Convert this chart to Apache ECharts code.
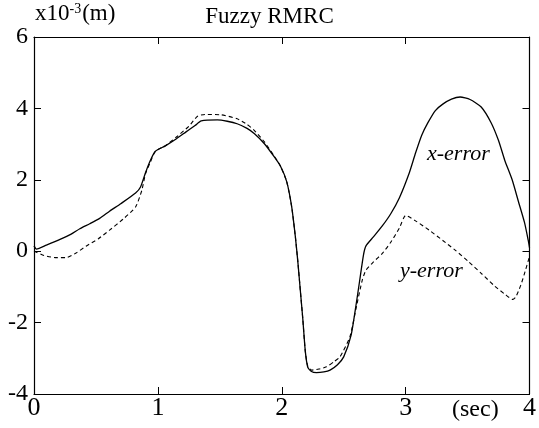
<!DOCTYPE html>
<html><head><meta charset="utf-8">
<script src="https://cdn.jsdelivr.net/npm/echarts@6/dist/echarts.min.js"></script>
<style>html,body{margin:0;padding:0;background:#fff}#c{width:539px;height:428px}</style>
</head><body><div id="c"></div>
<script>
var xTicks = ['0','1','2','3','4'];
var yTicks = ['-4','-2','0','2','4','6'];
var xErrT = [0,0.02,0.1,0.21,0.3,0.37,0.45,0.53,0.61,0.7,0.82,0.86,0.9,0.94,0.98,1.06,1.15,1.23,1.3,1.35,1.48,1.56,1.64,1.72,1.78,1.86,1.94,1.99,2.04,2.08,2.11,2.13,2.15,2.17,2.19,2.21,2.24,2.28,2.34,2.39,2.45,2.5,2.56,2.6,2.63,2.66,2.68,2.74,2.81,2.88,2.95,3.03,3.08,3.13,3.18,3.24,3.3,3.37,3.44,3.52,3.61,3.69,3.75,3.8,3.86,3.91,3.96,3.99,4.0];
var xErr = [0.15,0.06,0.17,0.33,0.48,0.63,0.77,0.92,1.12,1.33,1.63,1.8,2.2,2.55,2.8,2.95,3.15,3.35,3.52,3.65,3.68,3.64,3.57,3.44,3.29,3.01,2.64,2.38,1.95,1.25,0.4,-0.3,-1.1,-1.9,-2.8,-3.25,-3.37,-3.4,-3.38,-3.33,-3.18,-2.96,-2.35,-1.5,-0.8,-0.1,0.15,0.4,0.7,1.05,1.5,2.2,2.75,3.25,3.6,3.94,4.12,4.26,4.32,4.25,4.04,3.6,3.1,2.55,2.0,1.4,0.8,0.3,0.1];
var yErrT = [0,0.02,0.08,0.18,0.26,0.34,0.42,0.52,0.61,0.72,0.82,0.87,0.9,0.94,0.98,1.06,1.15,1.25,1.32,1.38,1.51,1.64,1.72,1.78,1.86,1.94,1.99,2.04,2.08,2.11,2.13,2.15,2.17,2.19,2.21,2.24,2.3,2.36,2.42,2.47,2.55,2.6,2.65,2.68,2.74,2.81,2.88,2.95,3.0,3.08,3.19,3.3,3.4,3.51,3.61,3.72,3.8,3.865,3.89,3.93,3.96,4.0];
var yErr = [0,-0.03,-0.12,-0.18,-0.18,-0.05,0.14,0.35,0.59,0.9,1.24,1.7,2.17,2.5,2.8,2.95,3.2,3.5,3.78,3.83,3.82,3.71,3.55,3.38,3.06,2.66,2.38,1.95,1.25,0.4,-0.3,-1.1,-1.9,-2.8,-3.22,-3.33,-3.3,-3.24,-3.1,-2.96,-2.4,-1.6,-0.81,-0.53,-0.3,-0.07,0.25,0.65,1.0,0.85,0.59,0.3,0.03,-0.3,-0.62,-0.98,-1.2,-1.35,-1.28,-0.95,-0.62,-0.15];

function pairs(t, v){ return t.map(function(x,i){return [x, v[i]];}); }
var serif = '"Liberation Serif","DejaVu Serif",serif';
var chart = echarts.init(document.getElementById('c'), null, {renderer:'canvas'});
var axLine = {show:true, onZero:false, lineStyle:{color:'#000', width:1.2}};
var ticks = {show:true, inside:true, length:7, lineStyle:{color:'#000', width:1}};
chart.setOption({
  animation:false,
  backgroundColor:'#fff',
  title:{text:'Fuzzy RMRC', left:'center', top:0, textStyle:{fontFamily:serif, fontWeight:'normal', fontSize:23, color:'#000'}},
  grid:{left:34, right:4, top:37, bottom:34},
  xAxis:[
    {type:'value', min:0, max:4, interval:1, position:'bottom', axisLine:axLine, axisTick:ticks, splitLine:{show:false},
     axisLabel:{fontFamily:serif, fontSize:26, color:'#000', margin:1, formatter:function(v){return xTicks[Math.round(v)];}}},
    {type:'value', min:0, max:4, interval:1, position:'top', axisLine:axLine, axisTick:ticks, splitLine:{show:false}, axisLabel:{show:false}}
  ],
  yAxis:[
    {type:'value', min:-4, max:6, interval:2, position:'left', axisLine:axLine, axisTick:ticks, splitLine:{show:false},
     axisLabel:{fontFamily:serif, fontSize:24, color:'#000', margin:6, formatter:function(v){return yTicks[Math.round((v+4)/2)];}}},
    {type:'value', min:-4, max:6, interval:2, position:'right', axisLine:axLine, axisTick:ticks, splitLine:{show:false}, axisLabel:{show:false}}
  ],
  series:[
    {type:'line', name:'x-error', data:pairs(xErrT,xErr), showSymbol:false, smooth:0.2, lineStyle:{color:'#000', width:1.3, type:'solid'}},
    {type:'line', name:'y-error', data:pairs(yErrT,yErr), showSymbol:false, smooth:0.2, lineStyle:{color:'#000', width:1.1, type:[4,3]}}
  ],
  graphic:[
    {type:'text', left:35, top:2, style:{rich:{a:{fontFamily:serif, fontSize:23, fill:'#000'}, s:{fontFamily:serif, fontSize:14, fill:'#000', verticalAlign:'top', padding:[0,1,9,0]}}, text:'{a|x10}{s|-3}{a|(m)}'}},
    {type:'text', left:427, top:143, style:{text:'x-error', fontFamily:serif, fontStyle:'italic', fontSize:22, fill:'#000'}},
    {type:'text', left:400, top:260, style:{text:'y-error', fontFamily:serif, fontStyle:'italic', fontSize:22, fill:'#000'}},
    {type:'text', left:452, top:398, style:{text:'(sec)', fontFamily:serif, fontSize:24, fill:'#000'}}
  ]
});
</script></body></html>
